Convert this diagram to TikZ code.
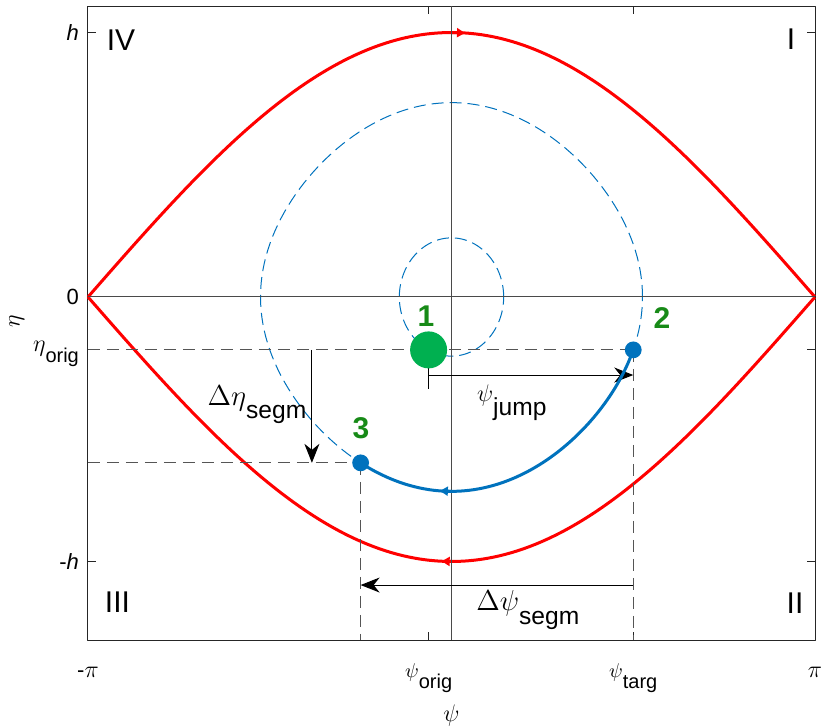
\documentclass[tikz,border=0pt]{standalone}
\usepackage{amsmath}
\usepackage{fontspec}
\setmainfont{Liberation Sans}
\usepackage{tikz}
\usetikzlibrary{arrows.meta}
\definecolor{sepred}{HTML}{FF0000}
\definecolor{orbblue}{HTML}{0072BD}
\definecolor{ptgreen}{HTML}{00B050}
\definecolor{numgreen}{HTML}{178A17}
\definecolor{guidegray}{HTML}{555555}
\definecolor{axisgray}{HTML}{4A4A4A}
\newcommand{\symsub}[3][]{{#1$#2$}\raisebox{-0.55em}{#3}}
\tikzset{
  every picture/.style={line join=round, >=Stealth},
  sepline/.style={sepred, line width=1.5pt},
  orbit/.style={orbblue, line width=1.5pt},
  orbitdash/.style={orbblue, line width=0.5pt, dash pattern=on 6pt off 3pt},
  guide/.style={guidegray, line width=0.55pt, dash pattern=on 6pt off 3.5pt},
  axisline/.style={axisgray, line width=0.5pt},
  dimarrow/.style={line width=0.5pt, -{Stealth[length=9.5pt,width=7.5pt,inset=3pt]}},
  flowtip/.style={-{Triangle[length=4pt,width=4.5pt]}},
  ticklbl/.style={inner sep=0pt, font=\fontsize{11}{13}\selectfont},
  greeklbl/.style={inner sep=0pt, font=\fontsize{10}{12}\selectfont},
  quadlbl/.style={inner sep=0pt, font=\fontsize{15}{18}\selectfont},
  ptnum/.style={inner sep=0pt, numgreen, font=\fontsize{15}{18}\selectfont\bfseries},
  annot/.style={inner sep=0pt, font=\fontsize{12.3}{15}\selectfont},
  dot/.style={circle, fill=orbblue, inner sep=0pt, minimum size=8.4pt},
}
\begin{document}
\begin{tikzpicture}[x=181.75pt, y=132.25pt]
\useasboundingbox (-1.2421,-1.6295) rectangle (1.0165,1.1229);
% frame and axes
\coordinate (bl) at (-1.000,-1.297);
\coordinate (tr) at (1.000,1.100);
\coordinate (o) at (0,0);
\draw[black!85, line width=0.5pt] (bl) rectangle (tr);
\foreach \y in {1,0,-0.2,-1}{
  \draw[black!85, line width=0.5pt] (-1,\y) -- ++(0.022,0);
  \draw[black!85, line width=0.5pt] (1,\y) -- ++(-0.022,0);
}
\foreach \x in {-0.063,0.5}{
  \draw[black!85, line width=0.5pt] (\x,1.1) -- ++(0,-0.030);
  \draw[black!85, line width=0.5pt] (\x,-1.297) -- ++(0,0.030);
}
% separatrix
\draw[sepline,domain=-1:1,samples=121,variable=\t] plot(\t,{cos(90*\t)});
\draw[sepline,domain=-1:1,samples=121,variable=\t] plot(\t,{-cos(90*\t)});
\draw[sepline,flowtip] (0,1) -- (0.037,0.998);
\draw[sepline,flowtip] (0,-1) -- (-0.027,-0.999);
% orbits
\draw[orbitdash,domain=0:360,samples=181,variable=\t] plot({asin(0.7348*cos(\t))/90},{0.7348*sin(\t)}) -- cycle;
\draw[orbitdash,domain=0:360,samples=121,variable=\t] plot({asin(0.2236*cos(\t))/90},{0.2236*sin(\t)}) -- cycle;
% points
\coordinate (p1) at (-0.063,-0.200);
\coordinate (p2) at (0.500,-0.200);
\coordinate (p3) at (-0.250,-0.627);
% guides
\draw[guide] (bl |- p2) -- (p2);
\draw[guide] (bl |- p3) -- (p3);
\draw[guide] (p3) -- (p3 |- bl);
\draw[guide] (p2) -- (p2 |- bl);
\draw[axisline] (bl |- o) -- (tr |- o);
\draw[axisline] (o |- bl) -- (o |- tr);
% jumps
\coordinate (jumpA) at (-0.063,-0.295);
\coordinate (jumpB) at (0.500,-0.295);
\draw[line width=0.5pt] (-0.063,-0.268) -- (-0.063,-0.348);
\draw[dimarrow] (jumpA) -- (jumpB);
\coordinate (detaA) at (-0.384,-0.200);
\coordinate (detaB) at (-0.384,-0.627);
\draw[dimarrow] (detaA) -- (detaB);
\coordinate (dpsiA) at (0.500,-1.089);
\coordinate (dpsiB) at (-0.250,-1.089);
\draw[dimarrow] (dpsiA) -- (dpsiB);
% segment
\draw[orbit,domain=15.79:121.39,samples=80,variable=\t] plot({asin(0.7348*cos(\t))/90},{-0.7348*sin(\t)});
\draw[orbit,flowtip] (0,-0.7348) -- (-0.032,-0.733);
\node[circle, fill=ptgreen, inner sep=0pt, minimum size=18.5pt] (dot1) at (p1) {};
\node[dot] (dot2) at (p2) {};
\node[dot] (dot3) at (p3) {};
\node[ptnum] (n1) at (-0.070,-0.072) {1};
\node[ptnum] (n2) at (0.579,-0.079) {2};
\node[ptnum] (n3) at (-0.249,-0.495) {3};
% labels
\node[quadlbl] (qIV) at (-0.909,0.972) {IV};
\node[quadlbl] (qI) at (0.934,0.975) {I};
\node[quadlbl] (qIII) at (-0.919,-1.153) {III};
\node[quadlbl] (qII) at (0.945,-1.157) {II};
\node[annot] (ljump) at (0.166,-0.400) {\symsub{\psi}{jump}};
\node[annot] (ldeta) at (-0.535,-0.408) {\symsub[\fontsize{13.5}{16}\selectfont]{\Delta\eta}{segm}};
\node[annot] (ldpsi) at (0.210,-1.183) {\symsub[\fontsize{13.5}{16}\selectfont]{\Delta\psi}{segm}};
\node[ticklbl,anchor=east] (th) at (-1.024,1.000) {\textit{h}};
\node[ticklbl,anchor=east] (t0) at (-1.024,0.000) {0};
\node[greeklbl,anchor=east] (teta) at (-1.024,-0.215) {\symsub[\fontsize{12.5}{14}\selectfont]{\eta}{orig}};
\node[ticklbl,anchor=east] (tmh) at (-1.024,-1.000) {-\textit{h}};
\node[ticklbl,anchor=base] (tmpi) at (-1.000,-1.437) {-{\fontsize{12.5}{14}\selectfont$\pi$}};
\node[greeklbl,anchor=base] (torig) at (-0.063,-1.437) {\symsub{\psi}{orig}};
\node[greeklbl,anchor=base] (ttarg) at (0.500,-1.437) {\symsub{\psi}{targ}};
\node[ticklbl,anchor=base] (tpi) at (1.000,-1.437) {{\fontsize{12.5}{14}\selectfont$\pi$}};
\node[inner sep=0pt, font=\fontsize{13}{15}\selectfont] (xlab) at (0.000,-1.584) {$\psi$};
\node[inner sep=0pt, font=\fontsize{13}{15}\selectfont, rotate=90] (ylab) at (-1.196,-0.091) {$\eta$};
\end{tikzpicture}
\end{document}
